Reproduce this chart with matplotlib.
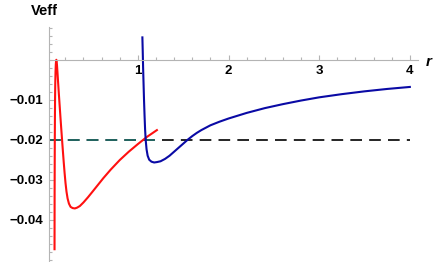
import numpy as np
import matplotlib
matplotlib.use('Agg')
import matplotlib.pyplot as plt
from matplotlib.ticker import MultipleLocator, FixedLocator

# red branch
r_red = [0.0810, 0.0815, 0.0820, 0.0830, 0.0840, 0.0855, 0.0870, 0.0890, 0.0920, 0.0950,
         0.0980, 0.1010, 0.1040, 0.1080, 0.1130, 0.1200, 0.1280, 0.1370, 0.1460, 0.1550,
         0.1640, 0.1730, 0.1820, 0.1920, 0.2020, 0.2130, 0.2250, 0.2400, 0.2580, 0.2800,
         0.3050, 0.3300, 0.3600, 0.4000, 0.4500, 0.5000, 0.5600, 0.6200, 0.7000, 0.8000,
         0.9000, 1.0000, 1.1000, 1.2100]
v_red = [-0.0474, -0.0400, -0.0330, -0.0260, -0.0200, -0.0140, -0.0095, -0.0060, -0.0030, -0.0012,
         -0.0003, 0.0000, -0.0003, -0.0013, -0.0030, -0.0055, -0.0083, -0.0113, -0.0143, -0.0172,
         -0.0200, -0.0228, -0.0255, -0.0283, -0.0308, -0.0330, -0.0347, -0.0360, -0.0368, -0.0371,
         -0.0372, -0.0370, -0.0366, -0.0357, -0.0344, -0.0330, -0.0313, -0.0296, -0.0275, -0.0251,
         -0.0230, -0.0211, -0.0193, -0.0176]

# blue branch
r_blue = [1.050, 1.054, 1.058, 1.063, 1.068, 1.074, 1.080, 1.087, 1.096, 1.108,
          1.125, 1.150, 1.180, 1.210, 1.250, 1.300, 1.350, 1.400, 1.450, 1.500,
          1.550, 1.600, 1.650, 1.700, 1.750, 1.800, 1.900, 2.000, 2.200, 2.400,
          2.600, 2.800, 3.000, 3.250, 3.500, 3.750, 4.000]
v_blue = [0.0056, 0.0020, -0.0020, -0.0060, -0.0100, -0.0140, -0.0175, -0.0202, -0.0224, -0.0240,
          -0.0250, -0.0255, -0.0257, -0.0256, -0.0254, -0.0248, -0.0240, -0.0230, -0.0220, -0.0210,
          -0.0200, -0.0191, -0.0183, -0.0176, -0.0170, -0.0164, -0.0155, -0.0147, -0.0133, -0.0121,
          -0.0111, -0.0102, -0.0094, -0.0086, -0.0079, -0.0073, -0.0068]

energy = -0.02
r_start = 0.02
r_teal_end = 1.21
r_end = 4.0

yticks = [-0.04, -0.03, -0.02, -0.01]
ytick_labels = ['-0.04', '-0.03', '-0.02', '-0.01']
xticks = [1, 2, 3, 4]

plt.rcParams['font.family'] = ['Liberation Sans', 'DejaVu Sans']

fig = plt.figure(figsize=(4.36, 2.62), dpi=100)
ax = fig.add_axes([49 / 436, 0, (418 - 49) / 436, (262 - 27) / 262])
ax.set_xlim(r_start, 4.09)
ax.set_ylim(-0.0506, 0.0082)

dash = (0, (7, 4.3))
ax.plot([r_start, r_end], [energy, energy], color='black', lw=1.2, linestyle=dash)
ax.plot([r_start, r_teal_end], [energy, energy], color='#22706b', lw=1.2, linestyle=dash)
ax.plot(r_red, v_red, color='#ff1010', lw=1.5, solid_joinstyle='round')
ax.plot(r_blue, v_blue, color='#0a0aa5', lw=1.5, solid_joinstyle='round')

for s in ['top', 'right']:
    ax.spines[s].set_visible(False)
ax.spines['bottom'].set_position(('data', 0))
for s in ['left', 'bottom']:
    ax.spines[s].set_color('#b4b4b4')
    ax.spines[s].set_linewidth(0.8)

ax.xaxis.set_major_locator(FixedLocator(xticks))
ax.xaxis.set_minor_locator(MultipleLocator(0.2))
ax.yaxis.set_major_locator(FixedLocator(yticks))
ax.yaxis.set_minor_locator(MultipleLocator(0.002))
ax.set_yticklabels([t.replace('-', '\u2212') for t in ytick_labels])
ax.set_xticklabels([str(t) for t in xticks])

ax.tick_params(which='both', direction='in', color='#b4b4b4', width=0.8)
ax.tick_params(which='major', length=3.5)
ax.tick_params(which='minor', length=2)
ax.tick_params(axis='x', pad=4, labelsize=9.5)
ax.tick_params(axis='y', pad=4, labelsize=9.5)
for lab in ax.get_xticklabels() + ax.get_yticklabels():
    lab.set_fontweight('bold')

fig.text(31 / 436, 1 - 11 / 262, 'Veff', fontsize=10.5, fontweight='bold',
         ha='left', va='center')
fig.text(426 / 436, 1 - 62 / 262, 'r', fontsize=11, fontweight='bold',
         style='italic', ha='left', va='center')

fig.savefig('out.png', dpi=100)
